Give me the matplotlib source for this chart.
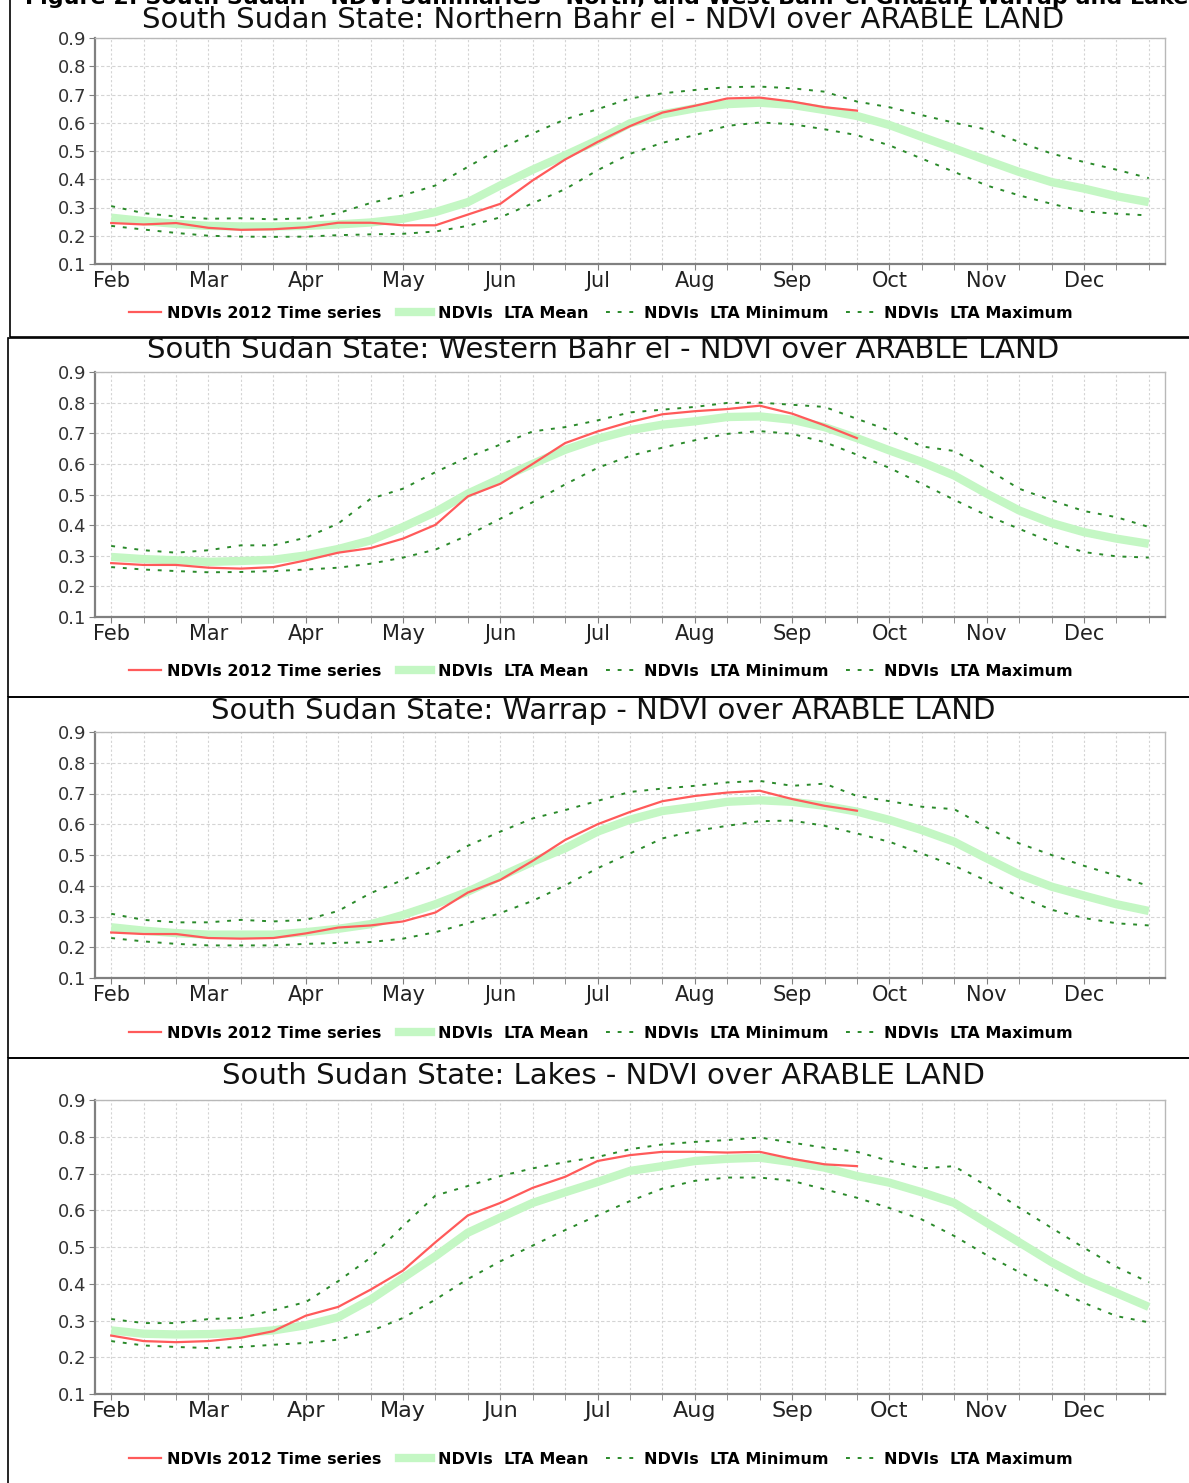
import matplotlib
matplotlib.use('Agg')
import matplotlib.pyplot as plt
from matplotlib.patches import Rectangle
from matplotlib.lines import Line2D

# dekads Feb1 .. Dec3
months = ['Feb', 'Mar', 'Apr', 'May', 'Jun', 'Jul', 'Aug', 'Sep', 'Oct', 'Nov', 'Dec']
y_ticks = [0.1, 0.2, 0.3, 0.4, 0.5, 0.6, 0.7, 0.8, 0.9]
y_labels = ['0.1', '0.2', '0.3', '0.4', '0.5', '0.6', '0.7', '0.8', '0.9']

titles = ['South Sudan State: Northern Bahr el - NDVI over ARABLE LAND',
          'South Sudan State: Western Bahr el - NDVI over ARABLE LAND',
          'South Sudan State: Warrap - NDVI over ARABLE LAND',
          'South Sudan State: Lakes - NDVI over ARABLE LAND']

# Northern Bahr el Ghazal
nbg_2012 = [0.245, 0.24, 0.245, 0.228, 0.221, 0.223, 0.23, 0.246, 0.246, 0.237, 0.237, 0.275,
            0.313, 0.396, 0.47, 0.532, 0.588, 0.636, 0.66, 0.686, 0.689, 0.675, 0.655, 0.643]
nbg_mean = [0.264, 0.252, 0.242, 0.235, 0.233, 0.233, 0.235, 0.24, 0.247, 0.26, 0.284, 0.319,
            0.378, 0.434, 0.485, 0.538, 0.598, 0.63, 0.651, 0.666, 0.671, 0.663, 0.645, 0.624,
            0.592, 0.55, 0.509, 0.467, 0.426, 0.39, 0.367, 0.34, 0.319]
nbg_max = [0.305, 0.28, 0.268, 0.26, 0.262, 0.258, 0.262, 0.28, 0.316, 0.343, 0.378, 0.444,
           0.509, 0.562, 0.612, 0.648, 0.686, 0.704, 0.716, 0.726, 0.728, 0.722, 0.71, 0.675,
           0.655, 0.627, 0.6, 0.576, 0.532, 0.491, 0.461, 0.434, 0.404]
nbg_min = [0.235, 0.222, 0.21, 0.2, 0.197, 0.196, 0.197, 0.202, 0.205, 0.207, 0.215, 0.235,
           0.265, 0.315, 0.365, 0.432, 0.49, 0.529, 0.556, 0.589, 0.601, 0.595, 0.577, 0.556,
           0.52, 0.473, 0.426, 0.378, 0.343, 0.313, 0.286, 0.278, 0.272]

# Western Bahr el Ghazal
wbg_2012 = [0.276, 0.27, 0.27, 0.261, 0.258, 0.263, 0.285, 0.31, 0.325, 0.356, 0.401, 0.494,
            0.535, 0.6, 0.668, 0.706, 0.737, 0.762, 0.772, 0.779, 0.79, 0.764, 0.726, 0.684]
wbg_mean = [0.296, 0.289, 0.285, 0.28, 0.283, 0.287, 0.301, 0.322, 0.35, 0.394, 0.443, 0.503,
            0.552, 0.6, 0.646, 0.682, 0.71, 0.728, 0.739, 0.753, 0.755, 0.744, 0.72, 0.684,
            0.644, 0.606, 0.562, 0.503, 0.448, 0.407, 0.377, 0.356, 0.339]
wbg_max = [0.332, 0.318, 0.31, 0.318, 0.334, 0.334, 0.359, 0.405, 0.486, 0.519, 0.573, 0.622,
           0.663, 0.706, 0.72, 0.742, 0.768, 0.777, 0.786, 0.799, 0.8, 0.793, 0.786, 0.747,
           0.709, 0.657, 0.642, 0.584, 0.519, 0.481, 0.446, 0.426, 0.394]
wbg_min = [0.263, 0.255, 0.25, 0.246, 0.247, 0.25, 0.255, 0.261, 0.274, 0.294, 0.32, 0.367,
           0.421, 0.475, 0.533, 0.587, 0.626, 0.653, 0.677, 0.698, 0.707, 0.698, 0.671, 0.63,
           0.587, 0.535, 0.483, 0.432, 0.388, 0.345, 0.312, 0.298, 0.294]

# Warrap
war_2012 = [0.248, 0.243, 0.243, 0.23, 0.228, 0.23, 0.245, 0.264, 0.271, 0.284, 0.313, 0.378,
            0.419, 0.481, 0.549, 0.6, 0.64, 0.675, 0.692, 0.703, 0.709, 0.682, 0.66, 0.644]
war_mean = [0.265, 0.254, 0.246, 0.241, 0.241, 0.241, 0.249, 0.26, 0.275, 0.305, 0.34, 0.381,
            0.43, 0.478, 0.522, 0.576, 0.615, 0.643, 0.657, 0.673, 0.678, 0.673, 0.66, 0.641,
            0.614, 0.581, 0.543, 0.489, 0.437, 0.397, 0.368, 0.34, 0.318]
war_max = [0.309, 0.289, 0.281, 0.281, 0.289, 0.284, 0.289, 0.318, 0.376, 0.419, 0.468, 0.53,
           0.576, 0.619, 0.646, 0.676, 0.705, 0.716, 0.725, 0.736, 0.741, 0.725, 0.732, 0.692,
           0.675, 0.657, 0.649, 0.589, 0.538, 0.5, 0.465, 0.433, 0.399]
war_min = [0.23, 0.219, 0.211, 0.206, 0.206, 0.206, 0.211, 0.214, 0.217, 0.228, 0.249, 0.278,
           0.311, 0.351, 0.401, 0.457, 0.505, 0.554, 0.578, 0.595, 0.61, 0.612, 0.595, 0.57,
           0.543, 0.505, 0.465, 0.416, 0.365, 0.322, 0.295, 0.278, 0.271]

# Lakes
lak_2012 = [0.259, 0.244, 0.241, 0.244, 0.253, 0.271, 0.313, 0.337, 0.384, 0.436, 0.513, 0.586,
            0.62, 0.661, 0.691, 0.734, 0.75, 0.759, 0.759, 0.757, 0.759, 0.74, 0.725, 0.72]
lak_mean = [0.273, 0.264, 0.262, 0.263, 0.266, 0.273, 0.287, 0.309, 0.357, 0.416, 0.475, 0.539,
            0.58, 0.62, 0.649, 0.677, 0.707, 0.72, 0.734, 0.74, 0.743, 0.731, 0.716, 0.693,
            0.675, 0.649, 0.62, 0.566, 0.513, 0.459, 0.412, 0.375, 0.337]
lak_max = [0.304, 0.293, 0.293, 0.304, 0.307, 0.328, 0.35, 0.407, 0.471, 0.557, 0.64, 0.666,
           0.693, 0.714, 0.731, 0.745, 0.766, 0.779, 0.786, 0.791, 0.798, 0.784, 0.77, 0.759,
           0.734, 0.714, 0.72, 0.666, 0.607, 0.552, 0.498, 0.446, 0.404]
lak_min = [0.244, 0.232, 0.228, 0.225, 0.228, 0.234, 0.239, 0.248, 0.271, 0.307, 0.357, 0.413,
           0.461, 0.504, 0.546, 0.586, 0.625, 0.659, 0.68, 0.689, 0.689, 0.68, 0.657, 0.634,
           0.606, 0.575, 0.53, 0.478, 0.432, 0.389, 0.348, 0.312, 0.295]

panels = [(nbg_2012, nbg_mean, nbg_min, nbg_max),
          (wbg_2012, wbg_mean, wbg_min, wbg_max),
          (war_2012, war_mean, war_min, war_max),
          (lak_2012, lak_mean, lak_min, lak_max)]

W, H = 1189, 1483
fig = plt.figure(figsize=(W / 100, H / 100), dpi=100)
fig.patch.set_facecolor('white')


def fx(px):
    return px / W


def fy(py):
    return 1 - py / H


# pixel layout of each panel: (plot top, plot bottom, title y, legend y, frame top, frame bottom, frame left)
layout = [(38, 264, 20, 313, -5, 337, 10),
          (372, 617, 350, 671, 338, 697, 8),
          (732, 978, 711, 1033, 697, 1058, 8),
          (1100, 1394, 1076, 1459, 1058, 1490, 8)]

red = '#ff5a5a'
light_green = '#c4f7c4'
dark_green = '#2a8a2a'

# header, cut off at the top of the page
fig.text(fx(25), fy(4), 'Figure 2: South Sudan - NDVI Summaries - North, and West Bahr el Ghazal, Warrap and Lakes',
         fontsize=16, fontweight='bold', va='baseline', ha='left')

for i, (s2012, smean, smin, smax) in enumerate(panels):
    top, bot, ty, ly, ftop, fbot, fleft = layout[i]

    # panel frame
    fig.add_artist(Rectangle((fx(fleft), fy(fbot)), fx(W + 20 - fleft), (fbot - ftop) / H,
                             transform=fig.transFigure, fill=False, edgecolor='black', lw=1.2))

    ax = fig.add_axes([fx(95), fy(bot), fx(1165 - 95), (bot - top) / H])
    x_all = list(range(len(smean)))
    x_2012 = list(range(len(s2012)))

    ax.plot(x_all, smean, color=light_green, lw=6, solid_capstyle='butt', zorder=2)
    ax.plot(x_all, smin, color=dark_green, lw=1.4, dashes=(2, 4), zorder=3)
    ax.plot(x_all, smax, color=dark_green, lw=1.4, dashes=(2, 4), zorder=3)
    ax.plot(x_2012, s2012, color=red, lw=1.6, zorder=4)

    ax.set_xlim(-0.5, 32.5)
    ax.set_ylim(0.1, 0.9)
    ax.set_xticks(x_all, minor=True)
    ax.set_xticks(list(range(0, 33, 3)))
    fs = 16 if i == 3 else 15
    ax.set_xticklabels(months, fontsize=fs, color='#222222')
    ax.set_yticks(y_ticks)
    ax.set_yticklabels(y_labels, fontsize=13, color='#333333')
    ax.tick_params(axis='both', which='both', direction='out', length=4, color='#808080', pad=2)
    ax.tick_params(axis='x', pad=1)
    ax.grid(True, which='both', axis='x', color='#d4d4d4', lw=0.8, dashes=(2, 2))
    ax.grid(True, which='major', axis='y', color='#d4d4d4', lw=0.8, dashes=(3, 2))
    ax.set_axisbelow(True)
    for side in ['left', 'bottom']:
        ax.spines[side].set_color('#808080')
        ax.spines[side].set_linewidth(1.6)
    for side in ['top', 'right']:
        ax.spines[side].set_color('#b8b8b8')
        ax.spines[side].set_linewidth(1.0)

    fig.text(fx(603), fy(ty), titles[i], fontsize=21, ha='center', va='center', color='#111111')

    handles = [Line2D([], [], color=red, lw=1.6),
               Line2D([], [], color=light_green, lw=6),
               Line2D([], [], color=dark_green, lw=1.4, dashes=(2, 4)),
               Line2D([], [], color=dark_green, lw=1.4, dashes=(2, 4))]
    labels = ['NDVIs 2012 Time series', 'NDVIs  LTA Mean', 'NDVIs  LTA Minimum', 'NDVIs  LTA Maximum']
    fig.legend(handles, labels, loc='center', bbox_to_anchor=(fx(601), fy(ly)), ncol=4, frameon=False,
               prop={'size': 11.5, 'weight': 'bold'}, handlelength=2.0, handletextpad=0.4,
               columnspacing=1.1, borderpad=0)

fig.savefig('out.png', dpi=100)
